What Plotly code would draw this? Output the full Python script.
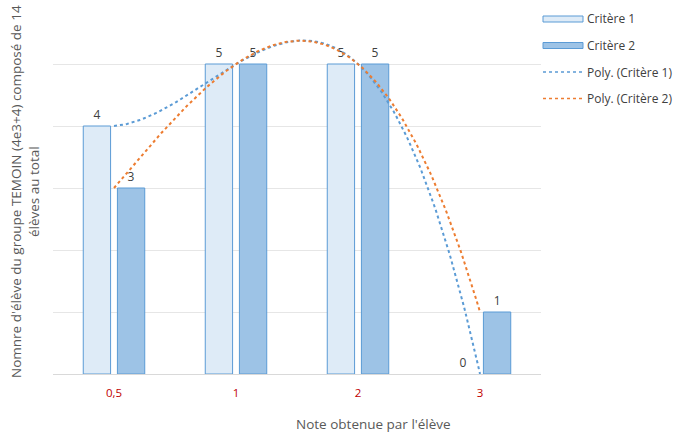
import numpy as np
import plotly.graph_objects as go

categories = ["0,5", "1", "2", "3"]
critere1 = [4, 5, 5, 0]
critere2 = [3, 5, 5, 1]
y_title = "Nomnre d'élève du groupe TEMOIN (4e3+4) composé de 14<br>élèves au total"
x_title = "Note obtenue par l'élève"

pos = np.arange(1, len(categories) + 1)
FONT = "Open Sans, sans-serif"
TXT = "#404040"
BLUE = "#5B9BD5"
ORANGE = "#ED7D31"

def border_widths(vals):
    return [1 if v > 0 else 0 for v in vals]

fig = go.Figure()
fig.add_bar(x=pos, y=critere1, name="Critère 1",
            marker=dict(color="#DEEBF7", line=dict(color=BLUE, width=border_widths(critere1))),
            text=[str(v) for v in critere1], textposition="outside",
            textfont=dict(color=TXT, size=12, family=FONT), cliponaxis=False,
            showlegend=False)
fig.add_bar(x=pos, y=critere2, name="Critère 2",
            marker=dict(color="#9DC3E6", line=dict(color=BLUE, width=border_widths(critere2))),
            text=[str(v) for v in critere2], textposition="outside",
            textfont=dict(color=TXT, size=12, family=FONT), cliponaxis=False,
            showlegend=False)

# polynomial trendlines (order 3), as Excel computes them from the data
xs = np.linspace(pos[0], pos[-1], 200)
for vals, col, nm in [(critere1, BLUE, "Poly. (Critère 1)"), (critere2, ORANGE, "Poly. (Critère 2)")]:
    c = np.polyfit(pos, vals, 3)
    fig.add_scatter(x=xs, y=np.polyval(c, xs), mode="lines", name=nm,
                    line=dict(color=col, width=2, dash="dot"), showlegend=False,
                    cliponaxis=False)

# custom legend (Excel style)
legend_items = [("Critère 1", "bar", "#DEEBF7"), ("Critère 2", "bar", "#9DC3E6"),
                ("Poly. (Critère 1)", "line", BLUE), ("Poly. (Critère 2)", "line", ORANGE)]
W, H = 690, 434
L, R, T, B = 53, 149, 2, 60
pw, ph = W - L - R, H - T - B
def px(x):
    return (x - L) / pw
def py(y):
    return 1 - (y - T) / ph
for i, (nm, kind, col) in enumerate(legend_items):
    yc = 19 + i * 26.5
    if kind == "bar":
        fig.add_shape(type="rect", xref="paper", yref="paper",
                      x0=px(543), x1=px(583), y0=py(yc - 3), y1=py(yc + 3),
                      fillcolor=col, line=dict(color=BLUE, width=1))
    else:
        fig.add_shape(type="line", xref="paper", yref="paper",
                      x0=px(543), x1=px(583), y0=py(yc), y1=py(yc),
                      line=dict(color=col, width=1.5, dash="dot"))
    fig.add_annotation(xref="paper", yref="paper", x=px(585), y=py(yc), text=nm,
                       showarrow=False, xanchor="left", yanchor="middle",
                       font=dict(size=12, color=TXT, family=FONT))

fig.add_annotation(xref="paper", yref="paper", x=px(25), y=py(192), text=y_title,
                   textangle=-90, showarrow=False, xanchor="center", yanchor="middle",
                   font=dict(size=13.5, color="#595959", family=FONT))
fig.add_annotation(xref="paper", yref="paper", x=px(373), y=py(424), text=x_title,
                   showarrow=False, xanchor="center", yanchor="middle",
                   font=dict(size=13.5, color="#595959", family=FONT))

fig.update_layout(
    width=W, height=H, margin=dict(l=L, r=R, t=T, b=B),
    paper_bgcolor="white", plot_bgcolor="white",
    barmode="group", bargap=0.44, bargroupgap=0.2,
    font=dict(family=FONT, color=TXT),
    xaxis=dict(range=[0.5, len(categories) + 0.5], tickvals=pos, ticktext=categories,
               showgrid=False, showline=True, linecolor="#D9D9D9", zeroline=False,
               tickfont=dict(color="#C00000", size=11.5, family=FONT), ticks="",
               ticklabelstandoff=8),
    yaxis=dict(range=[0, 6], dtick=1, showticklabels=False, gridcolor="#E6E6E6",
               zeroline=False, showline=False),
)
fig.write_html("out.html", config={"displayModeBar": False},
               post_script="document.body.style.margin='0';")
